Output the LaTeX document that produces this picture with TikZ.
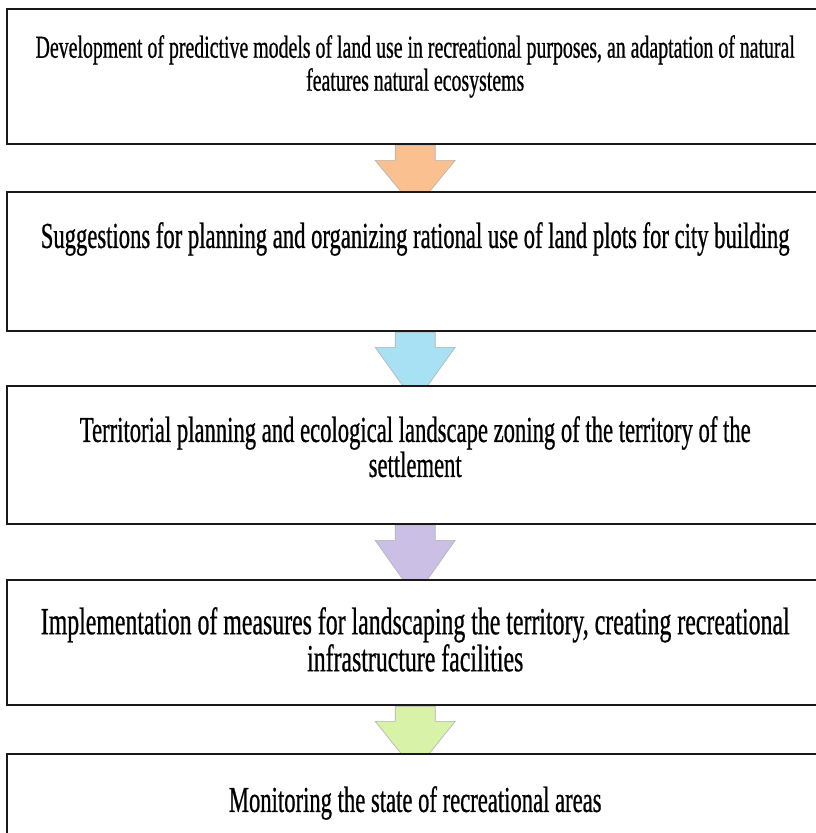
\documentclass[tikz,border=0pt]{standalone}
\usepackage{fontspec}
\setmainfont[FakeStretch=0.62,FakeBold=0.6]{Liberation Serif}
\usetikzlibrary{positioning,calc,backgrounds}

\definecolor{arrorange}{HTML}{FAC08F}
\definecolor{arrblue}{HTML}{A8E0F4}
\definecolor{arrpurple}{HTML}{CBBFE5}
\definecolor{arrgreen}{HTML}{D8F3A8}

% block arrow from the bottom of one stage to the top of the next
\newcommand{\stagearrow}[3]{%
	\draw[flow,fill=#3]
		($(#1.south)+(-20,0)$) -- ($(#1.south)+(-20,-15)$) -- ($(#1.south)+(-40,-15)$)
		-- ($(#2.north)+(0,-18)$)
		-- ($(#1.south)+(40,-15)$) -- ($(#1.south)+(20,-15)$) -- ($(#1.south)+(20,0)$) -- cycle;
}

\begin{document}
\begin{tikzpicture}[x=1pt,y=1pt]
	\def \leftedge{6}
	\def \stageone{-8}
	\def \stagetwo{-191}
	\def \stagethree{-385}
	\def \stagefour{-579}
	\def \stagefive{-753}
	\tikzstyle{stage}=[rectangle,draw=black!90,line width=2.4pt,fill=white,anchor=north west,inner sep=0pt,minimum width=816pt]
	\tikzstyle{caption}=[inner sep=0pt,align=center,font=\fontsize{36.5}{35}\selectfont]
	\tikzstyle{flow}=[draw=black!30,line width=0.6pt]
	\useasboundingbox (0,0) rectangle (815,-833);

	% stages
	\node[stage,minimum height=135pt] (s1) at (\leftedge,\stageone) {};
	\node[stage,minimum height=139pt] (s2) at (\leftedge,\stagetwo) {};
	\node[stage,minimum height=138pt] (s3) at (\leftedge,\stagethree) {};
	\node[stage,minimum height=125pt] (s4) at (\leftedge,\stagefour) {};
	\node[stage,minimum height=82pt]  (s5) at (\leftedge,\stagefive) {};

	% texts
	\node[caption,font=\fontsize{32}{33}\selectfont,below=27pt of s1.north] (t1)
		{Development of predictive models of land use in recreational purposes, an adaptation of natural\\features natural ecosystems};
	\node[caption,below=31pt of s2.north] (t2)
		{Suggestions for planning and organizing rational use of land plots for city building};
	\node[caption,below=31pt of s3.north] (t3)
		{Territorial planning and ecological landscape zoning of the territory of the\\settlement};
	\node[caption,font=\fontsize{38.4}{37}\selectfont,below=28pt of s4.north] (t4)
		{Implementation of measures for landscaping the territory, creating recreational\\infrastructure facilities};
	\node[caption,below=33pt of s5.north] (t5)
		{Monitoring the state of recreational areas};

	% arrows between stages
	\begin{scope}[on background layer]
		\stagearrow{s1}{s2}{arrorange}
		\stagearrow{s2}{s3}{arrblue}
		\stagearrow{s3}{s4}{arrpurple}
		\stagearrow{s4}{s5}{arrgreen}
	\end{scope}
\end{tikzpicture}
\end{document}
